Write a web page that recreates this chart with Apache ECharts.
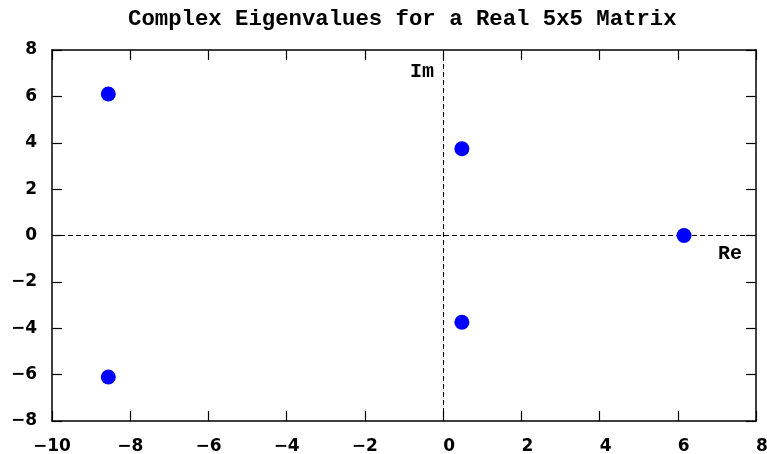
<!DOCTYPE html>
<html>
<head>
<meta charset="utf-8">
<script src="https://cdn.jsdelivr.net/npm/echarts@6/dist/echarts.min.js"></script>
<style>
  html, body { margin: 0; padding: 0; background: #fff; }
  #chart { width: 767px; height: 454px; }
</style>
</head>
<body>
<div id="chart"></div>
<script>
// eigenvalues: real and imaginary parts
const realParts = [-8.56, -8.56, 0.48, 0.48, 6.16]
const imagParts = [6.1, -6.1, 3.74, -3.74, 0]

const xTicks = { min: -10, max: 8, step: 2 }
const yTicks = { min: -8, max: 8, step: 2 }

const points = realParts.map((re, i) => [re, imagParts[i]])

// proper minus sign
const minus = (v) => String(v).replace('-', '\u2212')
// x labels: non-negative ones sit a bit to the right, like the original
const xLabel = (v) => v < 0 ? minus(v) : '{p|' + v + '}'

const labelFont = {
  fontFamily: 'DejaVu Sans',
  fontWeight: 'bold',
  fontSize: 17,
  color: '#000'
}
const monoFont = {
  fontFamily: 'Liberation Mono',
  fontWeight: 'bold',
  color: '#000'
}
const axisLine = { show: true, onZero: false, lineStyle: { color: '#000', width: 1.5 } }
const axisTick = { show: true, inside: true, length: 10, lineStyle: { color: '#000', width: 1.2 } }

const chart = echarts.init(document.getElementById('chart'))

chart.setOption({
  animation: false,
  title: {
    text: 'Complex Eigenvalues for a Real 5x5 Matrix',
    left: 123,
    top: 3,
    textStyle: { ...monoFont, fontSize: 22.3 }
  },
  grid: { left: 52, right: 11, top: 50, bottom: 33, outerBoundsMode: 'none' },
  xAxis: [
    {
      type: 'value', min: xTicks.min, max: xTicks.max, interval: xTicks.step,
      axisLine, axisTick,
      axisLabel: {
        ...labelFont, margin: 17, formatter: xLabel,
        rich: { p: { ...labelFont, padding: [0, 0, 0, 12] } }
      },
      splitLine: { show: false }
    },
    {
      type: 'value', position: 'top', min: xTicks.min, max: xTicks.max, interval: xTicks.step,
      axisLine, axisTick,
      axisLabel: { show: false }, splitLine: { show: false }
    }
  ],
  yAxis: [
    {
      type: 'value', min: yTicks.min, max: yTicks.max, interval: yTicks.step,
      axisLine, axisTick,
      axisLabel: { ...labelFont, margin: 15, formatter: minus },
      splitLine: { show: false }
    },
    {
      type: 'value', position: 'right', min: yTicks.min, max: yTicks.max, interval: yTicks.step,
      axisLine, axisTick,
      axisLabel: { show: false }, splitLine: { show: false }
    }
  ],
  series: [
    {
      type: 'scatter',
      data: points,
      symbol: 'circle',
      symbolSize: 15,
      itemStyle: { color: '#0000ff', opacity: 1 },
      z: 5,
      markLine: {
        silent: true,
        symbol: 'none',
        z: 1,
        label: { show: false },
        lineStyle: { color: '#000', width: 1, type: [5, 3] },
        data: [{ xAxis: 0 }, { yAxis: 0 }]
      },
      markPoint: {
        silent: true,
        symbol: 'circle',
        symbolSize: 0,
        data: [
          { coord: [0, 8], label: { formatter: 'Im', offset: [-21, 22] } },
          { coord: [8, 0], label: { formatter: 'Re', offset: [-26, 18] } }
        ],
        label: { show: true, position: 'inside', ...monoFont, fontSize: 20 }
      }
    }
  ]
})
</script>
</body>
</html>
